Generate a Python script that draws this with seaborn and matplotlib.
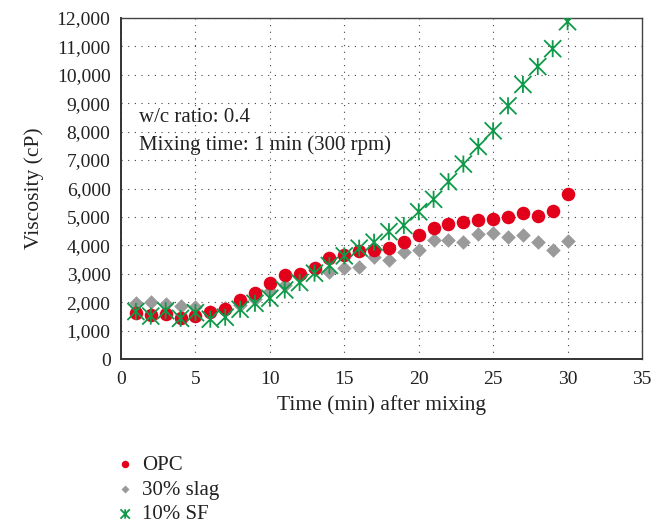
import matplotlib
matplotlib.use("Agg")
import matplotlib.pyplot as plt
import seaborn as sns
import pandas as pd
import numpy as np
from matplotlib.ticker import FuncFormatter, MultipleLocator
from matplotlib.path import Path

time_min = list(range(1, 31))
opc = [1630, 1550, 1570, 1430, 1510, 1640, 1750, 2080, 2330, 2660,
       2960, 2980, 3190, 3540, 3650, 3810, 3840, 3920, 4110, 4350,
       4600, 4750, 4830, 4890, 4940, 4980, 5130, 5020, 5220, 5790]
slag = [1960, 2010, 1930, 1880, 1820, 1670, 1780, 1900, 2100, 2390,
        2600, 2920, 3130, 3070, 3210, 3250, 3600, 3480, 3760, 3830,
        4180, 4190, 4100, 4410, 4440, 4300, 4380, 4120, 3830, 4170]
sf = [1670, 1510, 1700, 1430, 1630, 1400, 1470, 1750, 1960, 2140,
      2430, 2690, 3020, 3290, 3630, 3900, 4110, 4480, 4700, 5180,
      5620, 6240, 6860, 7480, 8030, 8910, 9660, 10290, 10920, 11870]
series_names = ["OPC", "30% slag", "10% SF"]
annotation_lines = ["w/c ratio: 0.4", "Mixing time: 1 min (300 rpm)"]

df = pd.concat([
    pd.DataFrame({"Time": time_min, "Viscosity": opc, "Mix": series_names[0]}),
    pd.DataFrame({"Time": time_min, "Viscosity": slag, "Mix": series_names[1]}),
    pd.DataFrame({"Time": time_min, "Viscosity": sf, "Mix": series_names[2]}),
])

# X with vertical stroke (star-like marker)
star_path = Path(
    [(-1, -1), (1, 1), (-1, 1), (1, -1), (0, -1), (0, 1)],
    [Path.MOVETO, Path.LINETO, Path.MOVETO, Path.LINETO, Path.MOVETO, Path.LINETO],
)

sns.set_style("white")
plt.rcParams["font.family"] = ["Liberation Serif", "DejaVu Serif"]

fig = plt.figure(figsize=(6.66, 5.26), dpi=100)
ax = fig.add_axes([121/666, 1-359/526, (642-121)/666, (359-18)/526])

colors = {"OPC": "#E2001A", "30% slag": "#9A9A9A", "10% SF": "#0E9A48"}
markers = {"OPC": "o", "30% slag": "D", "10% SF": star_path}
sizes = {"OPC": 95, "30% slag": 55, "10% SF": 150}

for name in series_names:
    sub = df[df["Mix"] == name]
    if name == "10% SF":
        kw = dict(linewidth=1.3, edgecolor=colors[name], facecolor="none")
    else:
        kw = dict(linewidth=0, color=colors[name])
    sns.scatterplot(data=sub, x="Time", y="Viscosity", ax=ax,
                    marker=markers[name], s=sizes[name],
                    label=name, zorder=3 if name != "30% slag" else 2, **kw)

ax.set_xlim(0, 35)
ax.set_ylim(0, 12000)
ax.xaxis.set_major_locator(MultipleLocator(5))
ax.yaxis.set_major_locator(MultipleLocator(1000))
ax.yaxis.set_major_formatter(FuncFormatter(lambda v, p: f"{int(v):,}"))
ax.grid(True, linestyle=(0, (1, 5)), color="#444444", linewidth=0.8)
ax.set_axisbelow(True)
for side in ["left", "bottom"]:
    ax.spines[side].set_linewidth(1.4)
    ax.spines[side].set_color("#333333")
for side in ["top", "right"]:
    ax.spines[side].set_linewidth(1.0)
    ax.spines[side].set_color("#444444")
ax.tick_params(axis="both", direction="inout", length=7, width=1.0,
               labelsize=14, colors="#333333", labelcolor="#222222")
ax.tick_params(axis="x", pad=5)
ax.tick_params(axis="y", pad=4)
ax.set_xlabel("Time (min) after mixing", fontsize=15.5, color="#222222", labelpad=5)
ax.set_ylabel("Viscosity (cP)", fontsize=15.5, color="#222222", labelpad=9)

ax.text(1.2, 8500, annotation_lines[0], fontsize=15, color="#222222", va="center")
ax.text(1.2, 7530, annotation_lines[1], fontsize=15, color="#222222", va="center")

handles, labels = ax.get_legend_handles_labels()
leg = ax.legend(handles, labels, loc="upper left", bbox_to_anchor=(-0.036, -0.258),
                frameon=False, fontsize=15, handletextpad=0.1, labelspacing=0.25,
                markerscale=0.55, borderaxespad=0, handlelength=1.4)
for t in leg.get_texts():
    t.set_color("#222222")

fig.savefig("out.png", dpi=100)
